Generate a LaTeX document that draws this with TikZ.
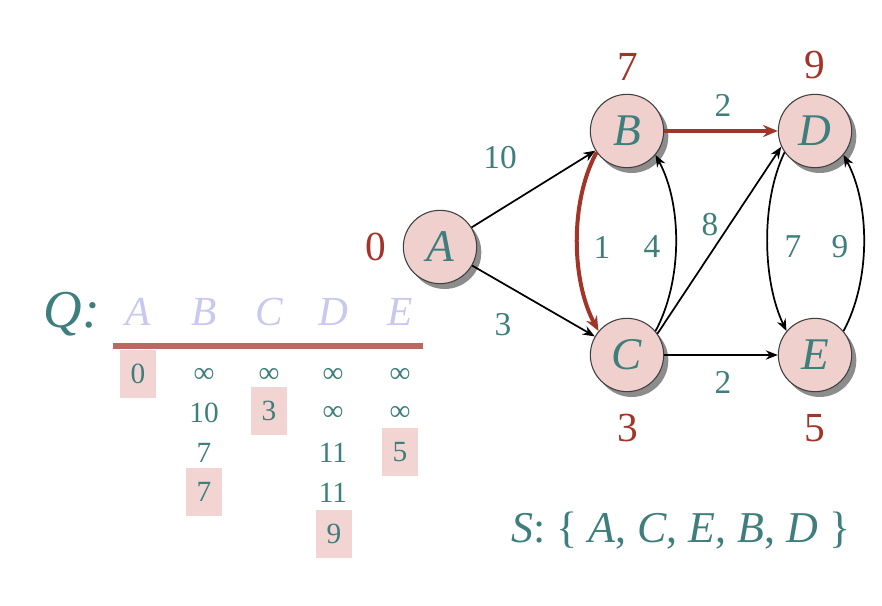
\documentclass[tikz,border=0pt]{standalone}
\usepackage{fontspec}
\setmainfont{Liberation Serif}
\usetikzlibrary{arrows.meta,shadows}
\definecolor{tealtext}{HTML}{3E7E7C}
\definecolor{distred}{HTML}{A33428}
\definecolor{nodefill}{HTML}{F0D0CD}
\definecolor{boxfill}{HTML}{F2D4D2}
\definecolor{lav}{HTML}{C8C8F0}
\definecolor{qline}{HTML}{B86A60}
\begin{document}
\begin{tikzpicture}[x=0.75pt,y=-0.75pt,
  vert/.style={circle,draw=gray!50!black,line width=0.8pt,fill=nodefill,
    minimum size=55pt,inner sep=0pt,text=tealtext,
    font=\fontsize{34}{34}\selectfont\itshape,
    drop shadow={shadow xshift=3.5pt,shadow yshift=-4pt,fill=black!60,opacity=0.75}},
  dist/.style={text=distred,font=\fontsize{31}{31}\selectfont,inner sep=0pt},
  wlab/.style={text=tealtext,font=\fontsize{25}{25}\selectfont,inner sep=0pt},
  edge/.style={line width=1.3pt,-{Stealth[length=9pt,width=7pt]}},
  redge/.style={line width=3pt,draw=distred,-{Stealth[length=11pt,width=9pt]}},
  qhead/.style={text=lav,font=\fontsize{31}{31}\selectfont\itshape,inner sep=0pt},
  tval/.style={text=tealtext,font=\fontsize{22}{22}\selectfont,inner sep=0pt},
  hbox/.style={fill=boxfill,draw=none,minimum width=27pt,minimum height=36pt,inner sep=0pt,
    text=tealtext,font=\fontsize{22}{22}\selectfont}
]
\useasboundingbox (0,0) rectangle (882,606);

% graph vertices
\node[vert] (A) at (440,247) {A};
\node[vert] (B) at (627,131) {B};
\node[vert] (C) at (627,355) {C};
\node[vert] (D) at (815,131) {D};
\node[vert] (E) at (815,355) {E};

% distances
\node[dist] (dA) at (376,247) {0};
\node[dist] (dB) at (628,67) {7};
\node[dist] (dD) at (815,65) {9};
\node[dist] (dC) at (628,428) {3};
\node[dist] (dE) at (815,428) {5};

% edges
\draw[edge] (A) -- (B);
\draw[edge] (A) -- (C);
\draw[edge] (C.35) -- (D.205);
\draw[edge] (C) -- (E);
\draw[edge] (C.40) .. controls +(27,-50) and +(27,50) .. (B.-40);
\draw[edge] (D.215) .. controls +(-24,50) and +(-24,-50) .. (E.140);
\draw[edge] (E.40) .. controls +(27,-50) and +(27,50) .. (D.-40);
\draw[redge] (B) -- (D);
\draw[redge] (B.215) .. controls +(-27,50) and +(-27,-50) .. (C.140);

% weights
\node[wlab] (w1) at (500,158) {10};
\node[wlab] (w2) at (503,325) {3};
\node[wlab] (w3) at (723,105) {2};
\node[wlab] (w4) at (602,247) {1};
\node[wlab] (w5) at (652,247) {4};
\node[wlab] (w6) at (710,225) {8};
\node[wlab] (w7) at (793,247) {7};
\node[wlab] (w8) at (840,247) {9};
\node[wlab] (w9) at (723,382) {2};

% Q table
\node[text=tealtext,font=\fontsize{40}{40}\selectfont\itshape,inner sep=0pt] (Q) at (72,314) {Q:};
\node[qhead] (hA) at (138,312) {A};
\node[qhead] (hB) at (204,312) {B};
\node[qhead] (hC) at (269,312) {C};
\node[qhead] (hD) at (333,312) {D};
\node[qhead] (hE) at (400,312) {E};
\draw[qline,line width=3.8pt] (113,346) coordinate (l1) -- (423,346) coordinate (l2);

\node[hbox] (bA) at (138,374) {0};
\node[hbox] (bC) at (269,411) {3};
\node[hbox] (bE) at (400,452) {5};
\node[hbox] (bB) at (204,492) {7};
\node[hbox] (bD) at (334,534) {9};

\node[tval] (b1) at (204,375) {∞};
\node[tval] (b2) at (204,413) {10};
\node[tval] (b3) at (204,453) {7};
\node[tval] (c1) at (269,375) {∞};
\node[tval] (d1) at (333,375) {∞};
\node[tval] (d2) at (333,413) {∞};
\node[tval] (d3) at (333,453) {11};
\node[tval] (d4) at (333,493) {11};
\node[tval] (e1) at (400,375) {∞};
\node[tval] (e2) at (400,413) {∞};

% S set
\node[text=tealtext,font=\fontsize{33}{33}\selectfont,inner sep=0pt] (S) at (681,531) {\textit{S}: \{ \textit{A}, \textit{C}, \textit{E}, \textit{B}, \textit{D} \}};
\end{tikzpicture}
\end{document}
